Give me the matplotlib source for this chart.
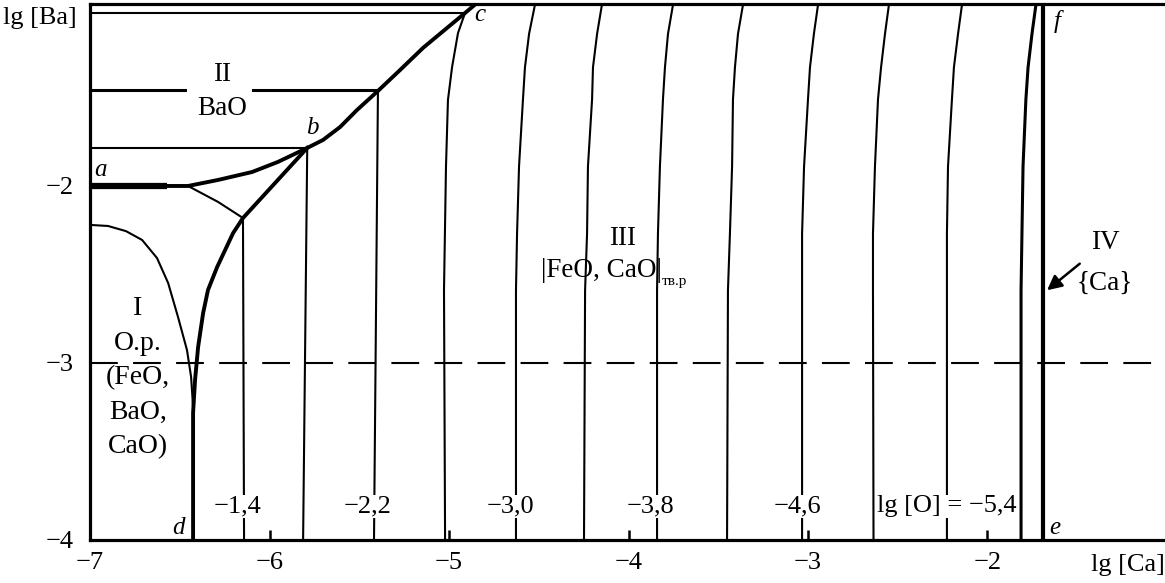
import matplotlib.pyplot as plt

plt.rcParams['font.family'] = ['Liberation Serif', 'DejaVu Serif']
plt.rcParams['lines.scale_dashes'] = False

# thick boundary a - b - c
abc_x = [-7.0, -6.454, -6.287, -6.097, -5.953, -5.79, -5.702, -5.607, -5.513,
         -5.396, -5.273, -5.145, -5.011, -4.911, -4.855]
abc_y = [-2.0, -2.0, -1.966, -1.921, -1.864, -1.785, -1.740, -1.667, -1.571,
         -1.463, -1.345, -1.220, -1.107, -1.023, -0.975]

# thick boundary b - d
bd_x = [-5.79, -6.148, -6.203, -6.292, -6.343, -6.370, -6.398, -6.415, -6.426, -6.426]
bd_y = [-1.785, -2.181, -2.266, -2.458, -2.588, -2.718, -2.910, -3.096, -3.282, -4.0]

# thin border of region I
reg1_x = [-7.0, -6.90, -6.80, -6.71, -6.627, -6.565, -6.510, -6.460, -6.437, -6.426]
reg1_y = [-2.220, -2.226, -2.255, -2.305, -2.407, -2.548, -2.740, -2.927, -3.079, -3.249]

# thin line from the a-line to curve b-d
con_x = [-6.454, -6.287, -6.148]
con_y = [-2.0, -2.09, -2.181]

# tie lines in region II (y level, right end)
tie_y = [-1.021, -1.458, -1.785]
tie_end = [-4.911, -5.396, -5.79]
bao_gap = [-6.471, -6.092]

# isolines lg[O] = -1.4, -1.8, -2.2, -2.6 (start on the boundary)
iso14_x = [-6.142, -6.148]
iso14_y = [-4.0, -2.181]
iso18_x = [-5.813, -5.79]
iso18_y = [-4.0, -1.785]
iso22_x = [-5.418, -5.396]
iso22_y = [-4.0, -1.463]
iso26_x = [-5.022, -5.028, -5.017, -5.006, -4.983, -4.950, -4.911]
iso26_y = [-4.0, -2.588, -1.893, -1.514, -1.328, -1.136, -1.023]

# isolines lg[O] = -3.0 ... -5.8
iso_y = [-4.0, -2.59, -2.27, -1.89, -1.51, -1.33, -1.14, -0.975]
iso30_x = [-4.627, -4.627, -4.621, -4.610, -4.588, -4.577, -4.554, -4.521]
iso34_x = [-4.248, -4.242, -4.231, -4.226, -4.203, -4.198, -4.175, -4.148]
iso38_x = [-3.841, -3.841, -3.836, -3.825, -3.808, -3.797, -3.780, -3.752]
iso42_x = [-3.451, -3.446, -3.435, -3.423, -3.418, -3.407, -3.390, -3.362]
iso46_x = [-3.033, -3.033, -3.033, -3.022, -3.000, -2.989, -2.967, -2.944]
iso50_x = [-2.635, -2.638, -2.638, -2.627, -2.610, -2.593, -2.571, -2.549]
iso54_x = [-2.226, -2.226, -2.226, -2.220, -2.198, -2.187, -2.164, -2.142]
iso58_x = [-1.813, -1.813, -1.808, -1.802, -1.786, -1.774, -1.752, -1.730]

# line e - f (pure Ca)
ef_x = -1.691

iso_labels = ["−1,4", "−2,2", "−3,0", "−3,8", "−4,6", "lg [O] = −5,4"]
iso_label_x = [-6.18, -5.455, -4.66, -3.875, -3.06, -2.226]
iso_label_y = -3.81

x_ticks = [-7, -6, -5, -4, -3, -2]
x_ticklabels = ["−7", "−6", "−5", "−4", "−3", "−2"]
y_ticks = [-4, -3, -2]
y_ticklabels = ["−4", "−3", "−2"]

fig = plt.figure(figsize=(11.65, 5.83), dpi=100)
ax = fig.add_axes([0.0773, 0.0738, 0.9227, 0.9193])
ax.set_xlim(-7, -1.011)
ax.set_ylim(-4, -0.972)

k = 'black'
thin = 1.5

# boundaries
ax.plot(abc_x, abc_y, c=k, lw=2.8, solid_capstyle='butt')
ax.plot([-7.0, -6.57], [-2.0, -2.0], c=k, lw=4.5, solid_capstyle='butt')
ax.plot(bd_x, bd_y, c=k, lw=2.8)
ax.plot(reg1_x, reg1_y, c=k, lw=thin)
ax.plot(con_x, con_y, c=k, lw=thin)

# tie lines
ax.plot([-7, tie_end[0]], [tie_y[0], tie_y[0]], c=k, lw=thin)
ax.plot([-7, bao_gap[0]], [tie_y[1], tie_y[1]], c=k, lw=2.2)
ax.plot([bao_gap[1], tie_end[1]], [tie_y[1], tie_y[1]], c=k, lw=2.2)
ax.plot([-7, tie_end[2]], [tie_y[2], tie_y[2]], c=k, lw=thin)

# isolines
ax.plot(iso14_x, iso14_y, c=k, lw=thin)
ax.plot(iso18_x, iso18_y, c=k, lw=thin)
ax.plot(iso22_x, iso22_y, c=k, lw=thin)
ax.plot(iso26_x, iso26_y, c=k, lw=thin)
for xs in [iso30_x, iso34_x, iso38_x, iso42_x, iso46_x, iso50_x, iso54_x]:
    ax.plot(xs, iso_y, c=k, lw=thin)
ax.plot(iso58_x, iso_y, c=k, lw=2.2)
ax.axvline(ef_x, c=k, lw=3.0)

# dashed line lg[Ba] = -3
ax.axhline(-3, c=k, lw=1.5, dashes=(20, 11))

# isoline labels
for lx, lt in zip(iso_label_x, iso_labels):
    ax.text(lx, iso_label_y, lt, ha='center', va='center', fontsize=19,
            bbox=dict(facecolor='white', edgecolor='none', pad=0.5), zorder=5)

# point letters
for px, py, s in [(-6.944, -1.91, 'a'), (-5.763, -1.672, 'b'), (-4.827, -1.034, 'c'),
                  (-6.51, -3.93, 'd'), (-1.624, -3.93, 'e'), (-1.613, -1.07, 'f')]:
    ax.text(px, py, s, style='italic', fontsize=18, ha='center', va='center')

# region labels
ax.text(-6.265, -1.373, "II", fontsize=19.5, ha='center', va='center')
ax.text(-6.265, -1.56, "BaO", fontsize=19.5, ha='center', va='center')
ax.text(-6.733, -3.085, "I\nО.р.\n(FeO,\nBaO,\nCaO)", fontsize=20, ha='center',
        va='center', linespacing=1.5)
ax.text(-4.031, -2.294, "III", fontsize=19.5, ha='center', va='center')
ax.text(-3.813, -2.475, "|FeO, CaO|", fontsize=19.5, ha='right', va='center')
ax.text(-3.813, -2.54, "тв.р", fontsize=11, ha='left', va='center')
ax.text(-1.345, -2.322, "IV", fontsize=19.5, ha='center', va='center')
ax.text(-1.345, -2.548, "{Ca}", fontsize=19.5, ha='center', va='center')
ax.annotate("", xy=(-1.680, -2.599), xytext=(-1.474, -2.429),
            arrowprops=dict(arrowstyle='-|>', color=k, lw=1.8, mutation_scale=22))

# axes
for side in ['left', 'top', 'bottom']:
    ax.spines[side].set_linewidth(2.3)
ax.spines['right'].set_visible(False)
ax.set_xticks(x_ticks)
ax.set_xticklabels(x_ticklabels)
ax.set_yticks(y_ticks)
ax.set_yticklabels(y_ticklabels)
ax.tick_params(axis='x', direction='in', length=7, width=1.8, pad=9, labelsize=19)
ax.tick_params(axis='y', length=0, pad=12, labelsize=19)

fig.text(40 / 1165, 1 - 18 / 583, "lg [Ba]", fontsize=19, ha='center', va='center')
fig.text(1128 / 1165, 1 - 565 / 583, "lg [Ca]", fontsize=19, ha='center', va='center')

fig.savefig("out.png", dpi=100)
